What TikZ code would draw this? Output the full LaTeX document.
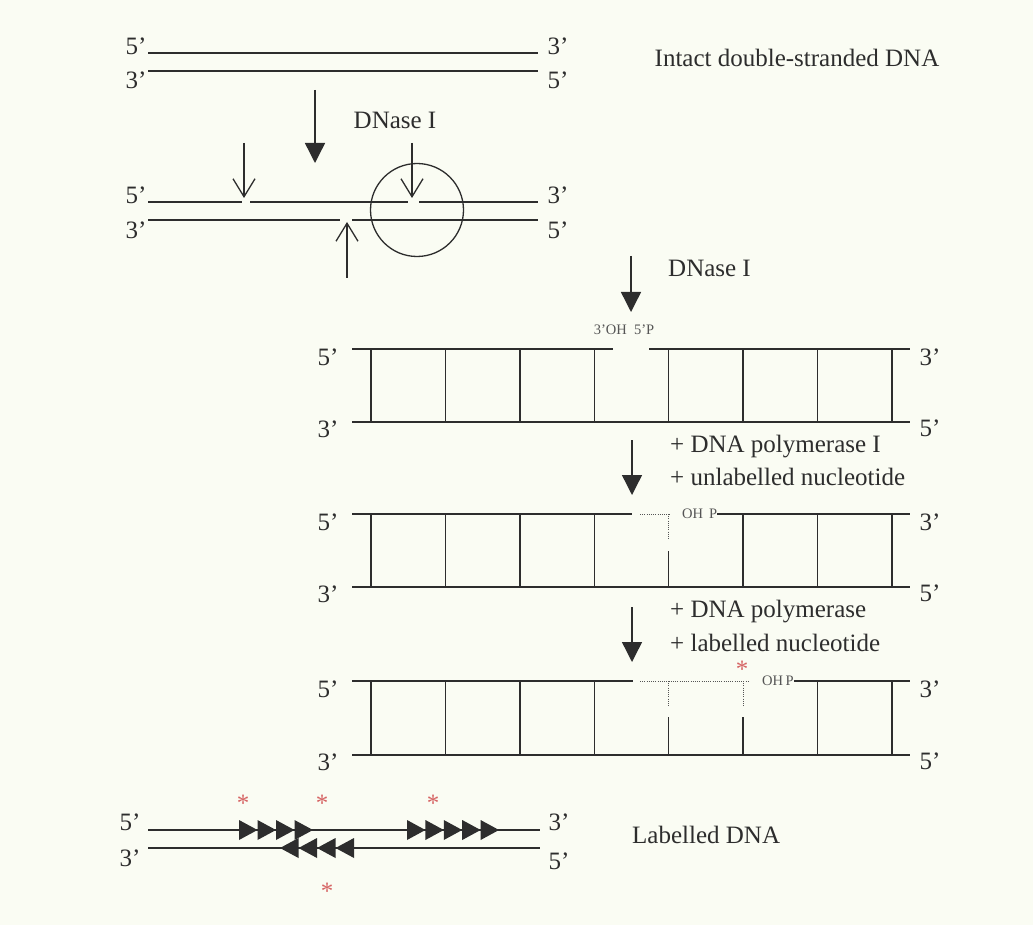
\documentclass[tikz,border=0pt]{standalone}
\usepackage{fontspec}
\setmainfont{Liberation Serif}
\usetikzlibrary{arrows.meta}
\definecolor{ink}{RGB}{45,45,45}
\definecolor{bg}{RGB}{250,252,243}
\definecolor{starred}{RGB}{214,100,100}
\definecolor{faint}{RGB}{85,85,85}
\begin{document}
\begin{tikzpicture}[x=1pt,y=-1pt,
  strand/.style={draw=ink,line width=1.3pt},
  lbl/.style={text=ink,font=\fontsize{25}{30}\selectfont,inner sep=0pt},
  small/.style={text=faint,font=\fontsize{14.5}{16}\selectfont,inner sep=0pt},
  bigarrow/.style={draw=ink,line width=1.4pt,-{Triangle[length=20pt,width=20pt]}},
  nickarrow/.style={draw=ink,line width=1.3pt,-{Straight Barb[length=18pt,width=22pt]}},
  dots/.style={draw=faint,line width=1pt,dash pattern=on 1pt off 1.2pt},
  aster/.style={text=starred,font=\fontsize{25}{30}\selectfont,inner sep=0pt},
  tri/.style={fill=ink},
]
\fill[bg] (0,0) rectangle (1033,925);
\useasboundingbox (0,0) rectangle (1033,925);

% ---------- intact DNA ----------
\node[lbl] (t5l) at (136,46) {5’};
\node[lbl] (t3r) at (558,46) {3’};
\node[lbl] (t3l) at (136,80) {3’};
\node[lbl] (t5r) at (558,80) {5’};
\draw[strand] (148,53) -- (538,53);
\draw[strand] (148,71) -- (538,71);
\node[lbl] (intact) at (797,58) {Intact double-stranded DNA};

\coordinate (a1s) at (315,90);
\coordinate (a1e) at (315,163);
\draw[bigarrow] (a1s) -- (a1e);
\node[lbl] (dn1) at (395,120) {DNase I};

% ---------- nicked DNA ----------
\node[lbl] (n5l) at (136,195) {5’};
\node[lbl] (n3r) at (558,195) {3’};
\node[lbl] (n3l) at (136,230) {3’};
\node[lbl] (n5r) at (558,230) {5’};
\draw[strand] (148,202) -- (242,202);
\draw[strand] (250,202) -- (408,202);
\draw[strand] (419,202) -- (538,202);
\draw[strand] (148,220) -- (340,220);
\draw[strand] (352,220) -- (538,220);
\draw[nickarrow] (244,143) -- (244,198);
\draw[nickarrow] (412,143) -- (412,198);
\draw[nickarrow] (347,278) -- (347,222);
\node[draw=ink,line width=1.3pt,circle,minimum size=93pt,inner sep=0pt] (circ) at (417,210) {};

% ---------- arrow DNase I ----------
\draw[bigarrow] (631,256) -- (631,312);
\node[lbl,anchor=west] (dn2) at (668,268) {DNase I};

% ---------- ladder 1 ----------
\foreach \x in {371,445.4,519.9,594.3,668.7,743.1,817.6,892}
  \draw[strand] (\x,349) -- (\x,422);
\draw[strand] (352,349) -- (613,349);
\draw[strand] (649,349) -- (910,349);
\draw[strand] (352,422) -- (910,422);
\node[small] (nick1) at (624,330) {3’OH\ \ 5’P};
\node[lbl] (l1a) at (328,357) {5’};
\node[lbl] (l1b) at (328,429) {3’};
\node[lbl] (l1c) at (930,357) {3’};
\node[lbl] (l1d) at (930,428) {5’};

% ---------- arrow pol I ----------
\draw[bigarrow] (632,440) -- (632,495);
\node[lbl,anchor=west] (p1) at (670,447) {+ DNA polymerase I};
\node[lbl,anchor=west] (p2) at (670,477) {+ unlabelled nucleotide};

% ---------- ladder 2 ----------
\foreach \x in {371,445.4,519.9,594.3,743.1,817.6,892}
  \draw[strand] (\x,514) -- (\x,587);
\draw[strand] (668.7,551) -- (668.7,587);
\draw[dots] (668.7,514) -- (668.7,540);
\draw[strand] (352,514) -- (632,514);
\draw[dots] (640,514) -- (670,514);
\node[small,anchor=west] (oh2) at (682,514) {OH\ \,P};
\draw[strand] (oh2.east) -- (910,514);
\draw[strand] (352,587) -- (910,587);
\node[lbl] (l2a) at (328,522) {5’};
\node[lbl] (l2b) at (328,594) {3’};
\node[lbl] (l2c) at (930,522) {3’};
\node[lbl] (l2d) at (930,593) {5’};

% ---------- arrow labelled ----------
\draw[bigarrow] (632,607) -- (632,662);
\node[lbl,anchor=west] (p3) at (670,612) {+ DNA polymerase};
\node[lbl,anchor=west] (p4) at (670,643) {+ labelled nucleotide};

% ---------- ladder 3 ----------
\foreach \x in {371,445.4,519.9,594.3,817.6,892}
  \draw[strand] (\x,681) -- (\x,755);
\draw[strand] (668.7,717) -- (668.7,755);
\draw[strand] (743.1,717) -- (743.1,755);
\draw[dots] (668.7,681) -- (668.7,707);
\draw[dots] (743.1,681) -- (743.1,707);
\draw[strand] (352,681) -- (633,681);
\draw[dots] (640,681) -- (750,681);
\node[small,anchor=west] (oh3) at (762,681) {OH\,P};
\draw[strand] (oh3.east) -- (910,681);
\draw[strand] (352,755) -- (910,755);
\node[aster] (s0) at (742,669) {*};
\node[lbl] (l3a) at (328,689) {5’};
\node[lbl] (l3b) at (328,762) {3’};
\node[lbl] (l3c) at (930,689) {3’};
\node[lbl] (l3d) at (930,761) {5’};

% ---------- labelled DNA ----------
\node[lbl] (b5l) at (130,822) {5’};
\node[lbl] (b3l) at (130,858) {3’};
\node[lbl] (b3r) at (559,822) {3’};
\node[lbl] (b5r) at (559,861) {5’};
\draw[strand] (148,830) -- (540,830);
\draw[strand] (148,848) -- (540,848);
\foreach \i in {0,1,2,3}
  \fill[tri] (239+\i*18.5,820) -- (257.5+\i*18.5,830) -- (239+\i*18.5,840) -- cycle;
\foreach \i in {0,1,2,3,4}
  \fill[tri] (407+\i*18.4,820) -- (425.4+\i*18.4,830) -- (407+\i*18.4,840) -- cycle;
\foreach \i in {0,1,2,3}
  \fill[tri] (354-\i*18.5,838) -- (335.5-\i*18.5,848) -- (354-\i*18.5,858) -- cycle;
\node[aster] (s1) at (243,803) {*};
\node[aster] (s2) at (322,803) {*};
\node[aster] (s3) at (433,803) {*};
\node[aster] (s4) at (327,891) {*};
\node[lbl,anchor=west] (lab) at (632,835) {Labelled DNA};
\end{tikzpicture}
\end{document}
